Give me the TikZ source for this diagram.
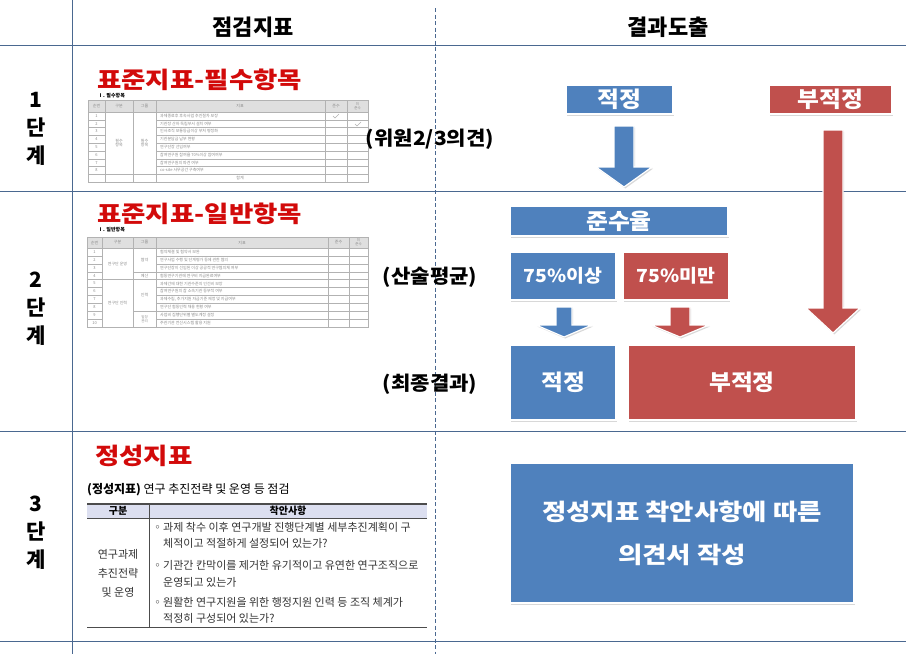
\documentclass[tikz,border=0pt]{standalone}
\usepackage{fontspec}
\setmainfont{Noto Sans CJK KR}
\newfontfamily\wkr{Noto Sans CJK KR}[FakeStretch=1.15]
\newfontfamily\mkr{Noto Sans CJK KR}[FakeStretch=1.08]
\usetikzlibrary{shadows}
\definecolor{bx}{HTML}{4F81BD}
\definecolor{rx}{HTML}{C0504D}
\definecolor{ln}{HTML}{4A6890}
\definecolor{ttl}{HTML}{D20A0A}
\definecolor{tg}{HTML}{8C8C8C}
\definecolor{hd}{HTML}{DCDFF0}
\newcommand\blkarrow[7]{%
  \fill[#7,draw=white,line width=1.2pt,line join=miter,
    drop shadow={shadow xshift=1.2pt,shadow yshift=-1.5pt,opacity=0.3}]
   ({#1-#2},#3) -- ({#1+#2},#3) -- ({#1+#2},#4) -- ({#1+#5},#4) -- (#1,#6)
   -- ({#1-#5},#4) -- ({#1-#2},#4) -- cycle;}
\begin{document}
\begin{tikzpicture}[x=1pt,y=-1pt,
  grid/.style={draw=ln,line width=0.8pt},
  hdtext/.style={font=\bfseries\fontsize{22}{24}\selectfont},
  steplbl/.style={font=\bfseries\fontsize{21}{28}\selectfont,align=center},
  redttl/.style={text=ttl,font=\wkr\bfseries\fontsize{23}{25}\selectfont,anchor=west,inner sep=0pt},
  midlbl/.style={font=\mkr\bfseries\fontsize{19.5}{21}\selectfont,inner sep=0pt},
  box/.style={draw=white,line width=1.2pt,text=white,inner sep=0pt,
    drop shadow={shadow xshift=1.2pt,shadow yshift=-1.5pt,opacity=0.3},
    font=\mkr\bfseries\fontsize{22}{24}\selectfont},
  tl/.style={draw=gray!60,line width=0.35pt},
  tiny/.style={font=\fontsize{4}{4.5}\selectfont,text=tg,inner sep=0pt},
  tinyl/.style={tiny,anchor=west},
  tbltxt/.style={font=\fontsize{11}{13}\selectfont,text=black!80,inner sep=0pt,anchor=west}]
\useasboundingbox (0,0) rectangle (910,654);
\fill[white] (0,0) rectangle (910,654);

% grid
\draw[grid] (72,0) -- (72,654);
\draw[grid,dashed,dash pattern=on 4pt off 2.5pt,line width=0.6pt] (435,8) -- (435,654);
\foreach \yy in {45,191,431,641} \draw[grid] (0,\yy) -- (906,\yy);

% headers
\node[hdtext] (h1) at (253,27) {점검지표};
\node[hdtext] (h2) at (668,27) {결과도출};

% step labels
\node[steplbl] (s1) at (36,129) {1\\단\\계};
\node[steplbl] (s2) at (36,309) {2\\단\\계};
\node[steplbl] (s3) at (36,533) {3\\단\\계};

% ---------- table 1 ----------
\node[redttl] (t1) at (97,80) {표준지표-필수항목};
\node[tinyl,text=black,font=\bfseries\fontsize{5}{5}\selectfont] (t1s) at (98,95.5) {Ⅰ. 필수항목};
\fill[gray!25] (88,100) rectangle (368,112);
\draw[tl] (88,100) rectangle (368,182);
\foreach \xx in {105,133,156,325,347} \draw[tl] (\xx,100) -- (\xx,182);
\draw[tl] (88,112) -- (368,112);
\foreach \i in {1,...,7} {
  \draw[tl] (88,{112+7.78*\i}) -- (105,{112+7.78*\i});
  \draw[tl] (156,{112+7.78*\i}) -- (368,{112+7.78*\i});}
\draw[tl] (88,174.2) -- (368,174.2);
\foreach \i in {1,...,8} \node[tiny] at (96.5,{112+7.78*(\i-0.5)}) {\i};
\node[tiny] at (96.5,106) {순번};
\node[tiny] at (119,106) {구분};
\node[tiny] at (144.5,106) {그룹};
\node[tiny] at (240,106) {지표};
\node[tiny] at (336,106) {준수};
\node[tiny,align=center,font=\fontsize{3.5}{3.8}\selectfont] at (357.5,106) {미\\준수};
\node[tiny,align=center] at (119,143) {필수\\항목};
\node[tiny,align=center] at (144.5,143) {필수\\항목};
\foreach \i/\t in {1/과제종료후 후속사업 추진절차 보장,2/기관장 산하 독립부서 설치 여부,3/인사조직 보통등급이상 부처 평정화,4/기관분담금 납부 현황,5/연구단장 선임여부,6/참여연구원 참여율 70\%이상 참여여부,7/참여연구원의 파견 여부,8/co-site 사무공간 구축여부}
  \node[tinyl] at (160,{112+7.78*(\i-0.5)}) {\t};
\node[tiny] at (240,178) {합계};
\draw[gray!60,line width=0.4pt] (333,116) -- (335,118) -- (339,114);
\draw[gray!60,line width=0.4pt] (355,124) -- (357,126) -- (361,122);

% ---------- table 2 ----------
\node[redttl] (t2) at (97,214) {표준지표-일반항목};
\node[tinyl,text=black,font=\bfseries\fontsize{5}{5}\selectfont] (t2s) at (98,230) {Ⅰ. 일반항목};
\fill[gray!25] (87,237) rectangle (368,248);
\draw[tl] (87,237) rectangle (368,327);
\foreach \xx in {102,133,156,328,349} \draw[tl] (\xx,237) -- (\xx,327);
\draw[tl] (87,248) -- (368,248);
\foreach \i in {1,...,9} {
  \draw[tl] (87,{248+7.9*\i}) -- (102,{248+7.9*\i});
  \draw[tl] (156,{248+7.9*\i}) -- (368,{248+7.9*\i});}
\draw[tl] (102,279.6) -- (156,279.6);
\draw[tl] (133,271.7) -- (156,271.7);
\draw[tl] (133,311.2) -- (156,311.2);
\foreach \i in {1,...,10} \node[tiny] at (94.5,{248+7.9*(\i-0.5)}) {\i};
\node[tiny] at (94.5,242.5) {순번};
\node[tiny] at (117.5,242.5) {구분};
\node[tiny] at (144.5,242.5) {그룹};
\node[tiny] at (242,242.5) {지표};
\node[tiny] at (338.5,242.5) {준수};
\node[tiny,align=center,font=\fontsize{3.5}{3.8}\selectfont] at (358.5,242.5) {미\\준수};
\node[tiny] at (117.5,264) {연구단 운영};
\node[tiny] at (117.5,303) {연구단 인력};
\node[tiny] at (144.5,260) {협약};
\node[tiny] at (144.5,275.6) {예산};
\node[tiny] at (144.5,295.4) {인력};
\node[tiny,align=center,font=\fontsize{3.5}{3.8}\selectfont] at (144.5,319) {일정\\관리};
\foreach \i/\t in {1/협약체결 및 협약서 보완,2/연구사업 수행 및 단계평가 등에 관한 협의,3/연구단장이 선임된 이상 공공적 연구협의체 여부,4/협동연구기관에 연구비 지급완료여부,5/과제간에 대한 기관수준의 인건비 보장,6/참여연구원의 참 소속기관 등부적 여부,7/과제수립{,} 추가지원 자금기준 제정 및 지급여부,8/연구단 협동인력 채용 현황 여부,9/사업비 집행단위별 별도계정 설정,10/주관기관 전산시스템 활용 지원}
  \node[tinyl] at (160,{248+7.9*(\i-0.5)}) {\t};

% ---------- table 3 ----------
\node[redttl] (t3) at (95,456) {정성지표};
\node[anchor=west,inner sep=0pt,font=\fontsize{12}{14}\selectfont] (t3s) at (87,490) {\textbf{(정성지표)} 연구 추진전략 및 운영 등 점검};
\fill[hd] (87,504) rectangle (427,518);
\draw[black!70,line width=1.1pt] (87,504) -- (427,504);
\draw[black!70,line width=0.5pt] (87,518) -- (427,518);
\draw[black!70,line width=0.9pt] (87,627) -- (427,627);
\draw[black!70,line width=0.5pt] (149,504) -- (149,627);
\node[font=\bfseries\fontsize{10}{12}\selectfont,inner sep=0pt] at (118,511) {구분};
\node[font=\bfseries\fontsize{10}{12}\selectfont,inner sep=0pt] at (288,511) {착안사항};
\node[font=\fontsize{11}{19}\selectfont,align=center,text=black!80,inner sep=0pt] at (118,573) {연구과제\\추진전략\\및 운영};
\node[tbltxt] at (152,527) {◦과제 착수 이후 연구개발 진행단계별 세부추진계획이 구};
\node[tbltxt] at (163,543) {체적이고 적절하게 설정되어 있는가?};
\node[tbltxt] at (152,565) {◦기관간 칸막이를 제거한 유기적이고 유연한 연구조직으로};
\node[tbltxt] at (163,582) {운영되고 있는가};
\node[tbltxt] at (152,602) {◦원활한 연구지원을 위한 행정지원 인력 등 조직 체계가};
\node[tbltxt] at (163,618) {적정히 구성되어 있는가?};

% ---------- middle labels ----------
\node[midlbl] (m1) at (430,139) {(위원2/3의견)};
\node[midlbl] (m2) at (430,277) {(산술평균)};
\node[midlbl] (m3) at (430,384) {(최종결과)};

% ---------- result boxes ----------
\node[box,fill=bx,minimum width=107pt,minimum height=29pt] (ok1) at (619.5,99.5) {적정};
\node[box,fill=rx,minimum width=123pt,minimum height=29pt] (ng1) at (830.5,99.5) {부적정};
\blkarrow{624}{10}{126}{167}{28}{187}{bx}
\blkarrow{833}{10}{130}{308}{27}{333}{rx}
\node[box,fill=bx,minimum width=218pt,minimum height=30pt] (rate) at (619,221) {준수율};
\node[box,fill=bx,minimum width=106pt,minimum height=48pt,font=\mkr\bfseries\fontsize{18}{20}\selectfont] (hi) at (563,276) {75\%이상};
\node[box,fill=rx,minimum width=106pt,minimum height=48pt,font=\mkr\bfseries\fontsize{18}{20}\selectfont] (lo) at (676,276) {75\%미만};
\blkarrow{564}{8}{307}{325}{28}{337}{bx}
\blkarrow{680}{10}{307}{325}{29}{337}{rx}
\node[box,fill=bx,minimum width=106pt,minimum height=75pt] (ok2) at (563,382.5) {적정};
\node[box,fill=rx,minimum width=228pt,minimum height=75pt] (ng2) at (742,382.5) {부적정};
\node[box,fill=bx,minimum width=344pt,minimum height=140pt,align=center,
  font=\wkr\bfseries\fontsize{23}{43}\selectfont] (op) at (682,533) {\raisebox{-3pt}{정성지표 착안사항에 따른}\\\raisebox{-3pt}{의견서 작성}};
\end{tikzpicture}
\end{document}
